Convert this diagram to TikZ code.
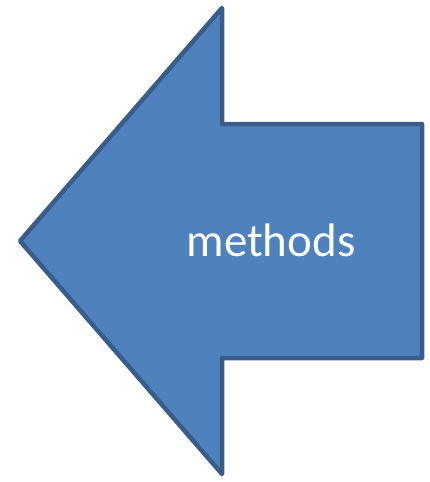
\documentclass[tikz,border=0pt]{standalone}
\usepackage{fontspec}
\setmainfont{Carlito}
\definecolor{arrowfill}{HTML}{4F81BD}
\definecolor{arrowline}{HTML}{385D8A}
\begin{document}
\begin{tikzpicture}[x=1pt,y=-1pt,
  arrowshape/.style={fill=arrowfill,draw=arrowline,line width=4.5pt,line join=round},
  arrowlabel/.style={text=white,font=\fontsize{47}{56}\selectfont,inner sep=0pt,anchor=base}]
\useasboundingbox (0,0) rectangle (429,482);
\coordinate (tip) at (20,241);
\coordinate (top) at (222,8);
\coordinate (nt) at (222,124);
\coordinate (rt) at (422,124);
\coordinate (rb) at (422,358);
\coordinate (nb) at (222,358);
\coordinate (bot) at (222,474);
\draw[arrowshape] (tip) -- (top) -- (nt) -- (rt) -- (rb) -- (nb) -- (bot) -- cycle;
\node[arrowlabel] (label) at (271,256) {methods};
\end{tikzpicture}
\end{document}
